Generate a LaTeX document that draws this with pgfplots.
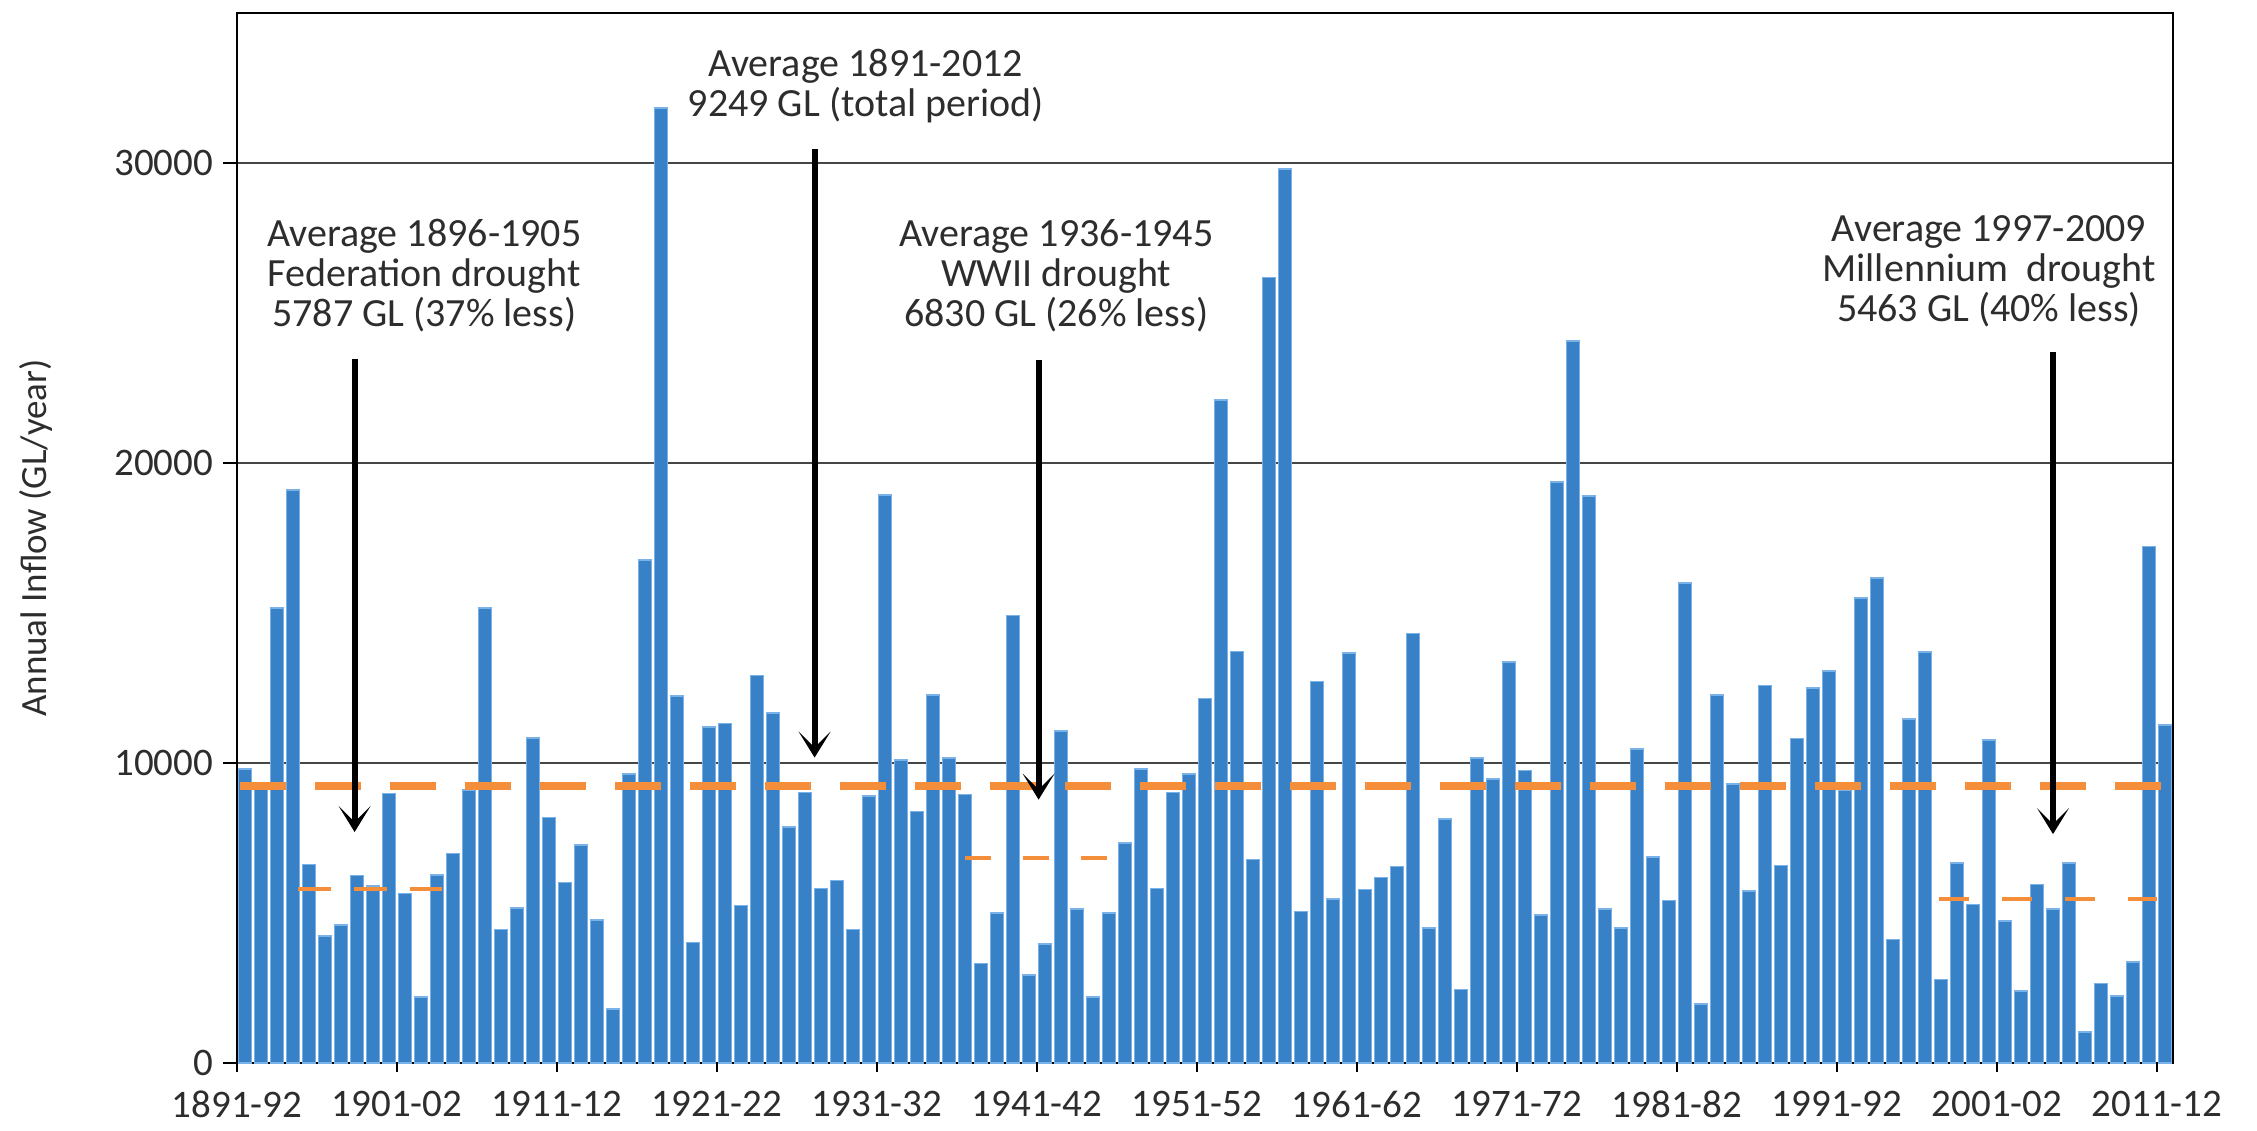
\documentclass[border=0pt]{standalone}
\usepackage{fontspec}
\setmainfont{Carlito}
\usepackage{pgfplots}
\usepackage{pgfplotstable}
\pgfplotsset{compat=1.18}
\usetikzlibrary{arrows.meta}

\definecolor{barblue}{RGB}{56,129,198}
\definecolor{baredge}{RGB}{120,178,230}
\definecolor{avgorange}{RGB}{245,142,58}
\definecolor{txtgray}{RGB}{45,45,45}
\definecolor{gridgray}{RGB}{70,70,70}

% Annual inflow (GL/year), one row per water year from 1891-92 (i = 0)
\pgfplotstableread{
i v
0 9800
1 9200
2 15160
3 19090
4 6620
5 4230
6 4600
7 6250
8 5900
9 8980
10 5650
11 2210
12 6260
13 6980
14 9100
15 15160
16 4450
17 5170
18 10830
19 8180
20 6020
21 7270
22 4770
23 1800
24 9630
25 16770
26 31840
27 12230
28 4020
29 11190
30 11310
31 5250
32 12920
33 11670
34 7870
35 9020
36 5820
37 6090
38 4450
39 8900
40 18940
41 10110
42 8380
43 12270
44 10160
45 8950
46 3320
47 5010
48 14920
49 2940
50 3970
51 11070
52 5130
53 2210
54 5010
55 7340
56 9800
57 5820
58 9020
59 9630
60 12150
61 22090
62 13720
63 6790
64 26180
65 29790
66 5050
67 12710
68 5460
69 13670
70 5780
71 6190
72 6550
73 14320
74 4500
75 8130
76 2450
77 10160
78 9460
79 13360
80 9750
81 4930
82 19370
83 24070
84 18890
85 5130
86 4500
87 10470
88 6860
89 5420
90 16000
91 1970
92 12270
93 9310
94 5730
95 12580
96 6580
97 10810
98 12500
99 13060
100 9100
101 15500
102 16170
103 4120
104 11470
105 13700
106 2780
107 6670
108 5280
109 10760
110 4740
111 2400
112 5950
113 5130
114 6670
115 1040
116 2650
117 2240
118 3370
119 17210
120 11260
}\inflow

\newcommand{\lblfont}{\fontsize{19.5}{20}\selectfont}
\newcommand{\ylblfont}{\fontsize{18.5}{20}\selectfont}
\newcommand{\notefont}{\fontsize{20}{20}\selectfont}

\begin{document}
\begin{tikzpicture}[x=1pt,y=1pt]
\path[use as bounding box] (0,0) rectangle (1128.5,565);
\begin{axis}[
  at={(118.5pt,33.5pt)}, anchor=south west,
  scale only axis, width=968pt, height=525pt,
  xmin=0, xmax=121, ymin=0, ymax=35000,
  axis line style={black, line width=1pt},
  xtick={0,10,...,120},
  xticklabels={1891-92,1901-02,1911-12,1921-22,1931-32,1941-42,1951-52,1961-62,1971-72,1981-82,1991-92,2001-02,2011-12},
  ytick={0,10000,20000,30000},
  xtick pos=lower, ytick pos=left,
  ymajorgrids,
  major grid style={gridgray, line width=0.9pt},
  tick align=outside,
  xtick style={black, line width=0.9pt, /pgfplots/major tick length=4.5pt},
  ytick style={black, line width=0.9pt, /pgfplots/major tick length=7pt},
  tick label style={font=\lblfont, text=txtgray},
  xticklabel style={anchor=north, inner sep=0pt, yshift=-9.5pt},
  yticklabel style={anchor=east, inner sep=0pt, xshift=-7.5pt},
  /pgf/number format/assume math mode=true,
  /pgf/number format/1000 sep={},
  scaled y ticks=false,
  ylabel={Annual Inflow (GL/year)},
  ylabel style={at={(axis description cs:-0.1038,0.5)}, anchor=center, font=\ylblfont, text=txtgray},
]
\addplot[ybar, bar width=0.8, bar shift=0pt, fill=barblue, draw=baredge, line width=0.8pt]
  table[x expr=\thisrow{i}+0.5, y=v] {\inflow};

% long-term mean and drought-period means
\addplot[avgorange, line width=4pt, dash pattern=on 23pt off 14.5pt] coordinates {(0.2,9249) (121,9249)};
\addplot[avgorange, line width=2pt, dash pattern=on 16.5pt off 11.5pt] coordinates {(3.8,5787) (12.8,5787)};
\addplot[avgorange, line width=2pt, dash pattern=on 13pt off 16pt] coordinates {(45.5,6830) (54.7,6830)};
\addplot[avgorange, line width=2pt, dash pattern=on 15pt off 16.5pt] coordinates {(106.4,5463) (120,5463)};

% arrows and labels
\tikzset{pointer/.style={black, line width=3pt, -{Stealth[length=13pt,width=16pt,inset=8pt]}}}
\draw[pointer] (axis cs:7.35,23470) -- (axis cs:7.35,7700);
\draw[pointer] (axis cs:36.1,30450) -- (axis cs:36.1,10180);
\draw[pointer] (axis cs:50.1,23420) -- (axis cs:50.1,8780);
\draw[pointer] (axis cs:113.5,23700) -- (axis cs:113.5,7630);

\node[align=center, font=\notefont, text=txtgray] at (axis cs:11.7,26230)
  {Average 1896-1905\\Federation drought\\5787 GL (37\% less)};
\node[align=center, font=\notefont, text=txtgray] at (axis cs:39.3,32570)
  {Average 1891-2012\\9249 GL (total period)};
\node[align=center, font=\notefont, text=txtgray] at (axis cs:51.2,26230)
  {Average 1936-1945\\WWII drought\\6830 GL (26\% less)};
\node[align=center, font=\notefont, text=txtgray] at (axis cs:109.5,26400)
  {Average 1997-2009\\Millennium\ \ drought\\5463 GL (40\% less)};
\end{axis}
\end{tikzpicture}
\end{document}
